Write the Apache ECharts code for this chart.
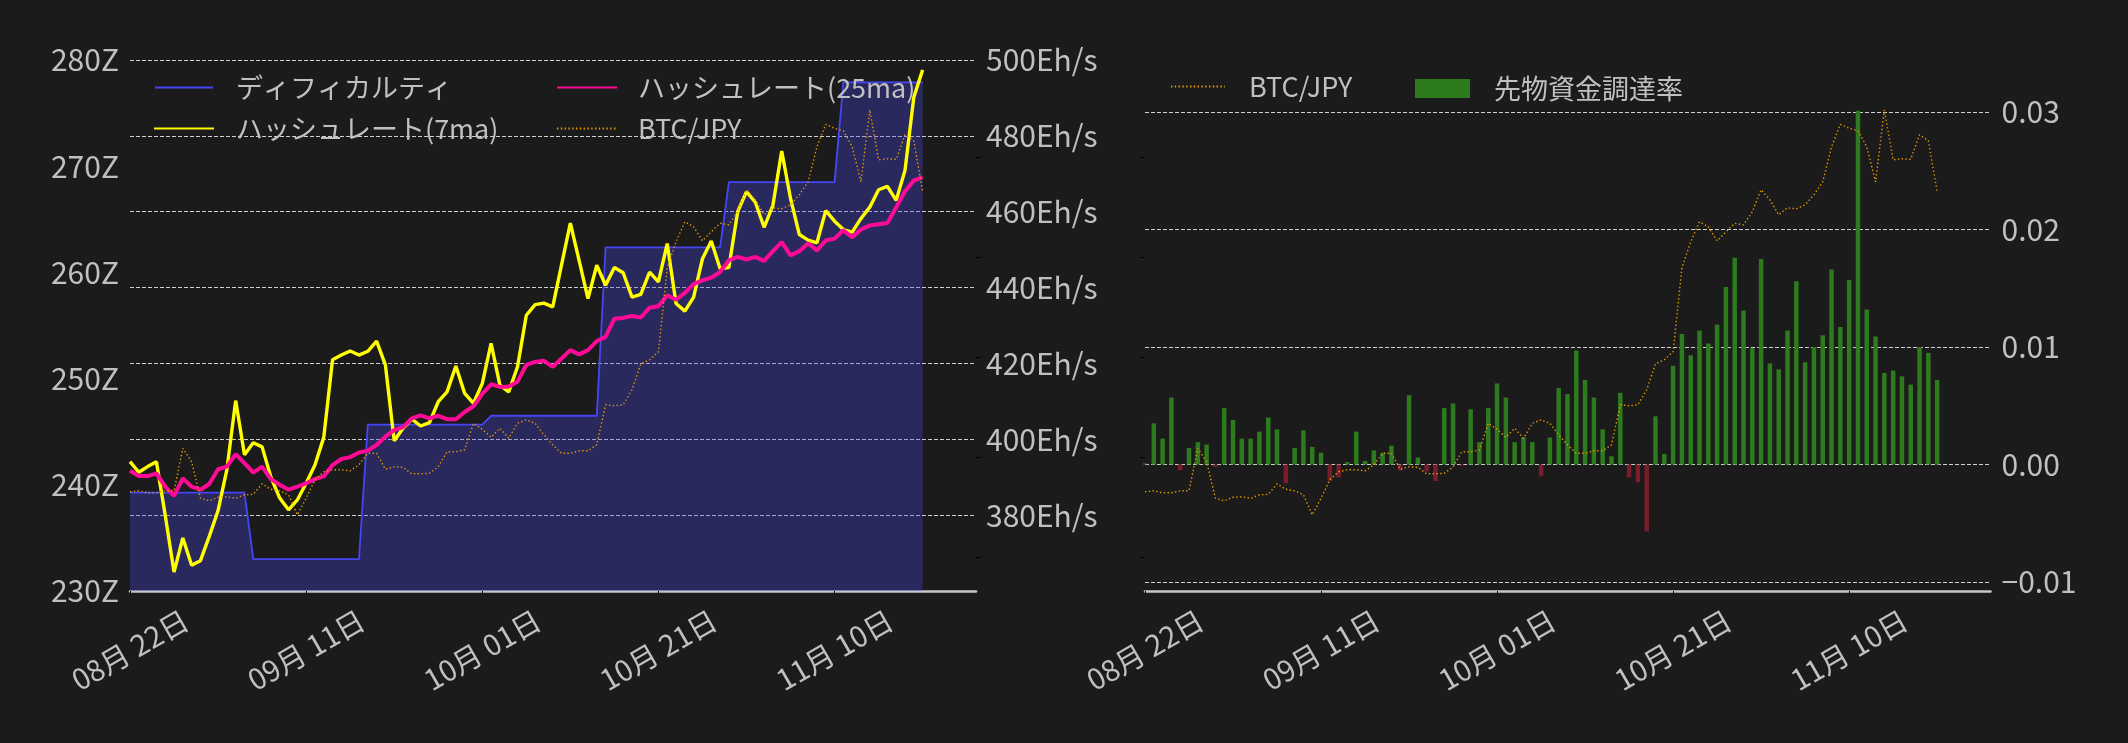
<!DOCTYPE html>
<html><head><meta charset="utf-8">
<script src="https://cdn.jsdelivr.net/npm/echarts@6/dist/echarts.min.js"></script>
<style>html,body{margin:0;padding:0;background:#1b1b1b;}#c{width:2128px;height:743px;}</style>
</head><body><div id="c"></div>
<script>
// day index 0 = 2024-08-22 (daily data to 2024-11-20)
const startDate = '2024-08-22';
const tickDays = [0, 20, 40, 60, 80];
const tickLabels = ['08月 22日', '09月 11日', '10月 01日', '10月 21日', '11月 10日'];
const btcHiddenTicks = [600, 800, 1000, 1200, 1400];

// ディフィカルティ (Z)
const difficulty = [
  239.27,239.27,239.27,239.27,239.27,239.27,239.27,239.27,239.27,239.27,239.27,239.27,239.27,239.27,
  233.0,233.0,233.0,233.0,233.0,233.0,233.0,233.0,233.0,233.0,233.0,233.0,233.0,
  245.66,245.66,245.66,245.66,245.66,245.66,245.66,245.66,245.66,245.66,245.66,245.66,245.66,245.66,
  246.5,246.5,246.5,246.5,246.5,246.5,246.5,246.5,246.5,246.5,246.5,246.5,246.5,
  262.35,262.35,262.35,262.35,262.35,262.35,262.35,262.35,262.35,262.35,262.35,262.35,262.35,262.35,
  268.5,268.5,268.5,268.5,268.5,268.5,268.5,268.5,268.5,268.5,268.5,268.5,268.5,
  277.9,277.9,277.9,277.9,277.9,277.9,277.9,277.9,277.9,277.9
];
// ハッシュレート(7ma) Eh/s
const hashrate7 = [
  394.1,391.3,392.8,394.1,380.0,365.0,374.0,366.8,368.0,374.4,
  381.2,392.0,410.2,395.9,399.1,398.0,390.0,384.5,381.4,384.0,
  388.4,393.2,400.5,421.0,422.2,423.3,422.2,423.2,425.9,419.6,
  399.6,402.9,405.3,403.5,404.4,409.9,412.5,419.3,412.1,409.5,
  414.7,425.3,414.3,412.5,419.1,432.7,435.5,435.9,434.9,446.0,
  457.0,447.1,437.1,445.9,440.6,445.3,443.9,437.5,438.2,444.1,
  441.5,451.6,435.8,433.8,437.5,447.6,452.3,445.0,445.3,460.0,
  465.3,462.5,455.9,461.7,476.0,463.5,454.0,452.5,451.8,460.3,
  457.5,455.3,454.6,458.2,461.2,465.8,466.7,463.0,470.9,490.2,
  497.4
];
// ハッシュレート(25ma) Eh/s
const hashrate25 = [
  391.7,390.3,390.3,391.0,387.5,385.1,389.7,387.5,386.7,388.2,
  392.1,392.8,396.1,393.7,391.2,392.8,389.5,388.0,386.7,387.5,
  388.4,389.5,390.2,393.2,394.8,395.3,396.5,397.0,398.5,400.7,
  402.4,403.2,405.5,406.3,405.5,406.2,405.3,405.3,407.2,408.7,
  412.0,414.5,413.8,413.9,415.2,419.6,420.4,420.7,419.1,421.3,
  423.5,422.4,423.5,425.9,427.0,431.8,432.0,432.5,432.1,434.7,
  435.1,438.0,436.8,438.6,440.9,441.9,442.6,444.1,447.2,448.1,
  447.4,448.1,447.0,449.6,452.0,448.5,449.6,451.7,449.8,452.4,
  452.9,455.1,453.3,455.3,456.4,456.7,457.0,461.2,465.4,468.2,
  469.1
];
// BTC/JPY (万円, unlabelled axis)
const btcjpy = [
  731,733,729,729,733,733,818,791,718,713,
  720,721,718,725,726,747,736,733,725,685,
  718,755,771,775,775,773,785,808,808,776,
  781,780,767,767,768,781,811,811,815,868,
  856,840,858,838,868,875,868,845,825,808,
  808,813,813,825,905,903,905,935,987,995,
  1011,1179,1231,1271,1261,1233,1251,1268,1265,1291,
  1335,1315,1285,1299,1297,1305,1325,1351,1421,1466,
  1458,1453,1421,1351,1495,1395,1397,1396,1445,1433,
  1331
];
// 先物資金調達率
const funding = [
  0.0001,0.0035,0.0022,0.0057,-0.0005,0.0014,0.0019,0.0017,-0.0002,0.0048,
  0.0038,0.0022,0.0022,0.0028,0.0040,0.0030,-0.0016,0.0014,0.0029,0.0015,
  0.0010,-0.0014,-0.0011,0.0002,0.0028,0.0003,0.0012,0.0010,0.0016,-0.0005,
  0.0059,0.0006,-0.0006,-0.0014,0.0048,0.0052,-0.0001,0.0047,0.0019,0.0048,
  0.0069,0.0057,0.0019,0.0023,0.0019,-0.0010,0.0023,0.0065,0.0060,0.0097,
  0.0072,0.0057,0.0030,0.0007,0.0061,-0.0011,-0.0015,-0.0057,0.0041,0.0009,
  0.0084,0.0111,0.0093,0.0114,0.0103,0.0119,0.0151,0.0176,0.0131,0.0099,
  0.0175,0.0086,0.0081,0.0114,0.0156,0.0087,0.0100,0.0110,0.0166,0.0117,
  0.0157,0.0301,0.0132,0.0109,0.0078,0.0080,0.0075,0.0068,0.0100,0.0095,
  0.0072
];

const FONT = '"Noto Sans CJK JP","Noto Sans",sans-serif';
const TXT = '#c0c0c0';
const FS = 27;     // legend text
const TFS = 30;    // tick labels
const C_DIFF = '#4646f4', C_H7 = '#ffff00', C_H25 = '#ff0a96', C_BTC = '#e39a00';
const C_UP = '#2d7a1f', C_DN = '#7a1d2a';
const pairs = arr => arr.map((v, i) => [i, v]);
const dateLabel = v => { const k = tickDays.indexOf(v); return k >= 0 ? tickLabels[k] : ''; };
const gridLine = { show: true, lineStyle: { color: '#cfcfcf', width: 1, type: [4, 2] } };

function xAxisCfg(gi, offset) {
  return {
    type: 'value', gridIndex: gi, min: 0, max: 96.06, offset: offset,
    axisLine: { show: true, onZero: false, lineStyle: { color: '#c8c8c8', width: 2.5 } },
    axisTick: { show: true, customValues: tickDays, length: 4, lineStyle: { color: '#000' } },
    axisLabel: { customValues: tickDays, formatter: dateLabel, rotate: 30, align: 'center',
      verticalAlign: 'middle', margin: 59, fontSize: TFS - 1, color: TXT, fontFamily: FONT },
    splitLine: { show: false }
  };
}
const yLab = (extra) => Object.assign({ fontSize: TFS, color: TXT, fontFamily: FONT }, extra);

function legendItem(name, left, top, w, h, pad, extra) {
  return Object.assign({
    data: [name], left: left, top: top, padding: 0, itemWidth: w, itemHeight: h,
    selectedMode: false, orient: 'horizontal',
    textStyle: { fontSize: FS, color: TXT, fontFamily: FONT, padding: [0, 0, 0, pad] },
    itemStyle: { opacity: 0 }
  }, extra || {});
}

const option = {
  backgroundColor: '#1b1b1b',
  animation: false,
  textStyle: { fontFamily: FONT },
  grid: [
    { left: 130, right: 1152, top: 60, bottom: 152 },
    { left: 1145, right: 137.5, top: 112, bottom: 161 }
  ],
  legend: [
    legendItem('ディフィカルティ', 154, 74, 58, 30, 18),
    legendItem('ハッシュレート(7ma)', 153, 115, 60, 30, 17),
    legendItem('ハッシュレート(25ma)', 556, 74, 60, 30, 16),
    legendItem('BTC/JPY', 556, 115, 60, 30, 16),
    legendItem('BTC/JPY', 1170, 73, 54, 30, 19),
    legendItem('先物資金調達率', 1415, 75, 55, 19, 19, { icon: 'rect', itemStyle: { color: C_UP } })
  ],
  xAxis: [xAxisCfg(0, 0), xAxisCfg(1, 9)],
  yAxis: [
    { type: 'value', gridIndex: 0, position: 'left', min: 230, max: 280, interval: 10,
      axisLine: { show: false }, axisTick: { show: false }, splitLine: { show: false },
      axisLabel: yLab({ formatter: '{value}Z', margin: 11 }) },
    { type: 'value', gridIndex: 0, position: 'right', min: 360, max: 500, interval: 20,
      axisLine: { show: false }, axisTick: { show: false }, splitLine: gridLine,
      axisLabel: yLab({ formatter: v => (v === 360 ? '' : v + 'Eh/s'), margin: 10 }) },
    { type: 'value', gridIndex: 0, position: 'right', min: 532.6, max: 1594.6,
      axisLine: { show: false }, splitLine: { show: false }, axisLabel: { show: false },
      axisTick: { show: true, customValues: btcHiddenTicks, length: 5, lineStyle: { color: '#000' } } },
    { type: 'value', gridIndex: 1, position: 'right', min: -0.01, max: 0.03, interval: 0.01,
      axisLine: { show: false }, axisTick: { show: false }, splitLine: gridLine,
      axisLabel: yLab({ margin: 11, formatter: v => (Math.abs(v) < 1e-9 ? '0.00' : v.toFixed(2)).replace('-', '\u2212') }) },
    { type: 'value', gridIndex: 1, position: 'left', min: 550.6, max: 1490.6,
      axisLine: { show: false }, splitLine: { show: false }, axisLabel: { show: false },
      axisTick: { show: true, customValues: btcHiddenTicks, length: 5, lineStyle: { color: '#000' } } }
  ],
  series: [
    { name: 'ディフィカルティ', type: 'line', xAxisIndex: 0, yAxisIndex: 0, data: pairs(difficulty),
      symbol: 'none', z: 1, itemStyle: { color: C_DIFF },
      lineStyle: { color: C_DIFF, width: 1.8 },
      areaStyle: { color: 'rgba(70,70,235,0.32)', opacity: 1, origin: 'start' } },
    { name: 'ハッシュレート(7ma)', type: 'line', xAxisIndex: 0, yAxisIndex: 1, data: pairs(hashrate7),
      symbol: 'none', z: 2, itemStyle: { color: C_H7 }, lineStyle: { color: C_H7, width: 3.4 } },
    { name: 'ハッシュレート(25ma)', type: 'line', xAxisIndex: 0, yAxisIndex: 1, data: pairs(hashrate25),
      symbol: 'none', z: 3, itemStyle: { color: C_H25 }, lineStyle: { color: C_H25, width: 4 } },
    { name: 'BTC/JPY', type: 'line', xAxisIndex: 0, yAxisIndex: 2, data: pairs(btcjpy),
      symbol: 'none', z: 4, itemStyle: { color: C_BTC }, lineStyle: { color: C_BTC, width: 1.4, type: [1.4, 2.4] } },
    { name: '先物資金調達率', type: 'bar', xAxisIndex: 1, yAxisIndex: 3, data: pairs(funding),
      barWidth: 4.5, clip: false, z: 2,
      itemStyle: { color: p => (p.value[1] >= 0 ? C_UP : C_DN) } },
    { name: 'BTC/JPY', type: 'line', xAxisIndex: 1, yAxisIndex: 4, data: pairs(btcjpy),
      symbol: 'none', z: 4, clip: false, itemStyle: { color: C_BTC },
      lineStyle: { color: C_BTC, width: 1.4, type: [1.4, 2.4] } }
  ]
};
const chart = echarts.init(document.getElementById('c'), null, { renderer: 'canvas' });
chart.setOption(option);
</script></body></html>
